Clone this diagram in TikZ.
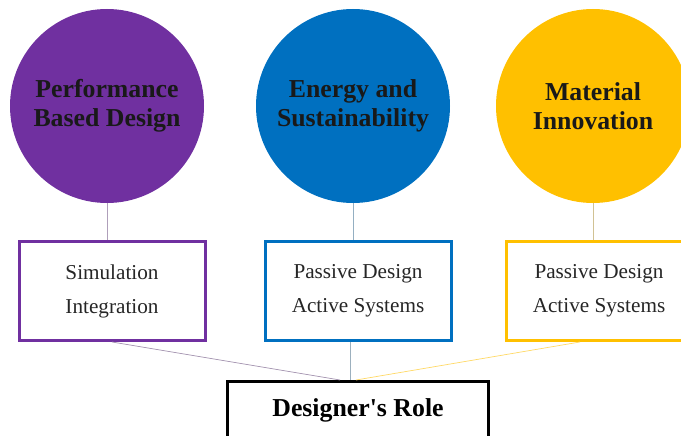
\documentclass[tikz,border=0pt]{standalone}
\usepackage{fontspec}
\setmainfont{Liberation Serif}
\begin{document}
\begin{tikzpicture}[x=1pt,y=-1pt]
\definecolor{perfcolor}{RGB}{112,48,160}
\definecolor{energycolor}{RGB}{0,112,192}
\definecolor{matcolor}{RGB}{255,192,0}
\tikzset{topic/.style = {circle, fill = #1, minimum size = 194pt, inner sep = 0pt, align = center, text = black!90, font = \fontsize{25.8}{29.5}\selectfont\bfseries},
  item/.style = {rectangle, draw = #1, fill = white, line width = 3pt, minimum width = 186pt, minimum height = 99pt, align = center, text = black!85, font = \fontsize{21.2}{34}\selectfont},
  link/.style = {draw = #1, line width = 0.7pt}}
\useasboundingbox (0,0) rectangle (681,436);
\foreach \n/\cx/\bx/\col/\title/\items in {perf/107/112/perfcolor/{Performance\\Based Design}/{Simulation\\Integration},%
  energy/353/358/energycolor/{Energy and\\Sustainability}/{Passive Design\\Active Systems},%
  mat/593/599/matcolor/{Material\\Innovation}/{Passive Design\\Active Systems}} {
  \node[topic = \col] (\n) at (\cx,106) {\title};
  \node[item = \col] (\n-box) at (\bx,291) {\items};
  \draw[link = \col!40!gray!60] (\n.south) -- (\n.south |- \n-box.north);
}
\node[draw = black, line width = 3pt, minimum width = 261pt, minimum height = 57pt, font = \fontsize{25.8}{29.5}\selectfont\bfseries] (role) at (358,410) {Designer\textquotesingle s Role};
\coordinate (hub) at ([xshift=-8pt]role.north);
\draw[link = perfcolor!35!gray!70] (perf-box.south) -- ([xshift=-10pt]hub);
\draw[link = energycolor!30!gray!60] (energy-box.south -| hub) -- (hub);
\draw[link = matcolor!60] ([xshift=-19pt]mat-box.south) -- ([xshift=6pt]hub);
\end{tikzpicture}
\end{document}
